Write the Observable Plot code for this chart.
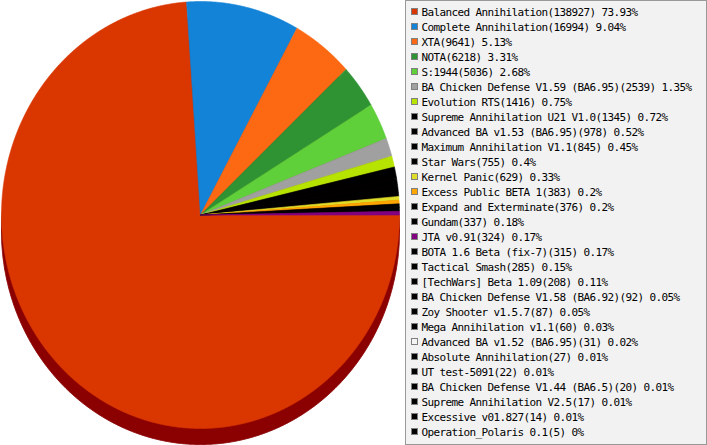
<!DOCTYPE html>
<html>
<head>
<meta charset="utf-8">
<script src="https://cdn.jsdelivr.net/npm/d3@7"></script>
<script src="https://cdn.jsdelivr.net/npm/@observablehq/plot@0.6"></script>
<style>
  html, body { margin: 0; padding: 0; background: #fff; }
  #wrap { position: relative; width: 707px; height: 445px; overflow: hidden; background: #fff; }
  #chart { position: absolute; left: 0; top: 0; }
  #legend { position: absolute; left: 405px; top: 0; width: 302px; height: 445px; box-sizing: border-box;
            border: 1px solid #999; background: #f2f2f2; }
  .row { position: absolute; left: 0; height: 15px; line-height: 15px; white-space: nowrap;
         font-family: "DejaVu Sans Mono", monospace; font-size: 11px; letter-spacing: -0.62px; color: #000; }
  .sw { position: absolute; left: 5px; top: 3.5px; width: 7px; height: 7px; box-sizing: border-box; border: 1px solid #808080; }
  .tx { position: absolute; left: 15.5px; top: 0; }
</style>
</head>
<body>
<div id="wrap">
  <div id="chart"></div>
  <div id="legend"></div>
</div>
<script>
const names = [
  "Balanced Annihilation", "Complete Annihilation", "XTA", "NOTA", "S:1944",
  "BA Chicken Defense V1.59 (BA6.95)", "Evolution RTS", "Supreme Annihilation U21 V1.0",
  "Advanced BA v1.53 (BA6.95)", "Maximum Annihilation V1.1", "Star Wars", "Kernel Panic",
  "Excess Public BETA 1", "Expand and Exterminate", "Gundam", "JTA v0.91",
  "BOTA 1.6 Beta (fix-7)", "Tactical Smash", "[TechWars] Beta 1.09",
  "BA Chicken Defense V1.58 (BA6.92)", "Zoy Shooter v1.5.7", "Mega Annihilation v1.1",
  "Advanced BA v1.52 (BA6.95)", "Absolute Annihilation", "UT test-5091",
  "BA Chicken Defense V1.44 (BA6.5)", "Supreme Annihilation V2.5", "Excessive v01.827",
  "Operation_Polaris 0.1"
];
const counts = [
  138927, 16994, 9641, 6218, 5036, 2539, 1416, 1345, 978, 845, 755, 629, 383, 376, 337,
  324, 315, 285, 208, 92, 87, 60, 31, 27, 22, 20, 17, 14, 5
];
const colors = [
  "#d93600", "#1283d6", "#fd6913", "#2f9334", "#5fcf3a", "#a0a0a0", "#b6e400", "#000000",
  "#000000", "#000000", "#000000", "#dede2a", "#ffa500", "#000000", "#000000", "#800080",
  "#000000", "#000000", "#000000", "#000000", "#000000", "#000000", "#f4f4f4", "#000000",
  "#000000", "#000000", "#000000", "#000000", "#000000"
];

// Layout (pixels)
const W = 402, H = 445;
const cx = 200, cy = 214.5, rx = 199, ry = 213.5, depth = 16;

const total = d3.sum(counts);
const pcts = counts.map(c => Math.round(c / total * 10000) / 100);

// Slice angles as the original renderer draws them: whole degrees per slice,
// clockwise from 3 o'clock, capped at a full turn.
const slices = [];
let acc = 0;
counts.forEach((c, i) => {
  const deg = Math.round(c / total * 360);
  const a0 = Math.min(acc, 360), a1 = Math.min(acc + deg, 360);
  acc += deg;
  if (a1 > a0) slices.push({name: names[i], a0, a1});
});

// angle in degrees clockwise from 3 o'clock -> unit coordinates (y up)
const stepDeg = 0.25;
const slicePts = [];
slices.forEach(s => {
  slicePts.push({name: s.name, x: 0, y: 0});
  const n = Math.max(1, Math.ceil((s.a1 - s.a0) / stepDeg));
  for (let k = 0; k <= n; k++) {
    const t = (s.a0 + (s.a1 - s.a0) * k / n) * Math.PI / 180;
    slicePts.push({name: s.name, x: Math.cos(t), y: -Math.sin(t)});
  }
  slicePts.push({name: s.name, x: 0, y: 0});
});

const shadowPts = d3.range(0, 1441).map(k => {
  const t = k / 1440 * 2 * Math.PI;
  return {x: Math.cos(t), y: Math.sin(t)};
});

const chart = Plot.plot({
  width: W, height: H, margin: 0,
  style: {background: "transparent"},
  x: {domain: [-1, 1], range: [cx - rx, cx + rx], axis: null},
  y: {domain: [-1, 1], range: [cy + ry, cy - ry], axis: null},
  color: {type: "ordinal", domain: names, range: colors},
  marks: [
    Plot.line(shadowPts, {x: "x", y: "y", fill: "#8b0000", stroke: "#8b0000", strokeWidth: 1, dy: depth, curve: "linear"}),
    Plot.line(slicePts, {x: "x", y: "y", z: "name", fill: "name", stroke: "name", strokeWidth: 0.6, curve: "linear"})
  ]
});
document.getElementById("chart").appendChild(chart);

// Legend
const legend = d3.select("#legend");
names.forEach((name, i) => {
  const row = legend.append("div").attr("class", "row").style("top", (3.5 + 15 * i) + "px");
  row.append("div").attr("class", "sw").style("background", colors[i]);
  row.append("div").attr("class", "tx").text(`${name}(${counts[i]}) ${pcts[i]}%`);
});
</script>
</body>
</html>
